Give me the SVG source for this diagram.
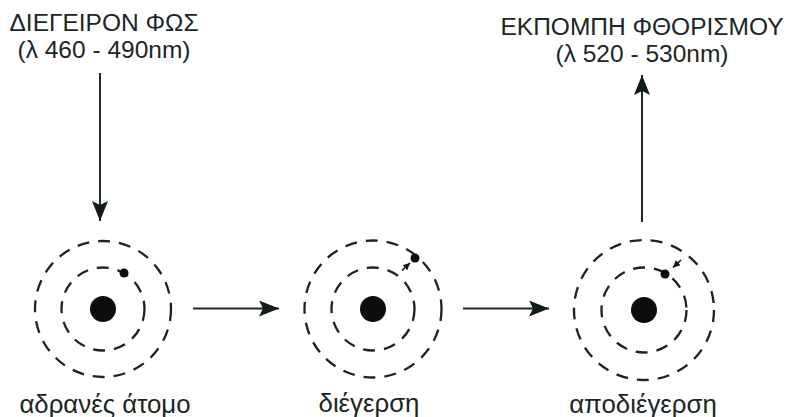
<svg xmlns="http://www.w3.org/2000/svg" width="790" height="417" viewBox="0 0 790 417">
  <defs>
    <style>
      .lbl { font-family: "Liberation Sans", Arial, sans-serif; font-size: 24.5px; fill: #1b2626; text-anchor: middle; }
      .cap { font-size: 25.8px; }
      .orbit { fill: none; stroke: #1b2222; stroke-width: 2.3; stroke-dasharray: 12 9; }
      .nucleus { fill: #0d0d0d; }
      .electron { fill: #0d0d0d; }
      .conn { fill: none; stroke: #1d2a2a; stroke-width: 2; }
      .small { fill: none; stroke: #111; stroke-width: 1.6; }
    </style>
    <marker id="head" viewBox="0 0 20 16" refX="20" refY="8" markerWidth="20" markerHeight="16" markerUnits="userSpaceOnUse" orient="auto">
      <path d="M0,0 L20,8 L0,16 L4,8 Z" fill="#121a1a"/>
    </marker>
    <marker id="tiny" viewBox="0 0 8 8" refX="8" refY="4" markerWidth="7" markerHeight="7" markerUnits="userSpaceOnUse" orient="auto">
      <path d="M0,0 L8,4 L0,8 Z" fill="#111"/>
    </marker>
  </defs>

  <rect width="790" height="417" fill="#ffffff"/>

  <!-- incoming light label -->
  <g id="excitation-light">
    <text class="lbl" x="104" y="31">ΔΙΕΓΕΙΡΟΝ ΦΩΣ</text>
    <text class="lbl" x="104" y="58">(λ 460 - 490nm)</text>
  </g>

  <!-- emitted light label -->
  <g id="fluorescence-emission">
    <text class="lbl" x="642" y="35">ΕΚΠΟΜΠΗ ΦΘΟΡΙΣΜΟΥ</text>
    <text class="lbl" x="642" y="62">(λ 520 - 530nm)</text>
  </g>

  <!-- ground-state atom -->
  <g id="atom-ground">
    <circle class="orbit" cx="103" cy="309" r="68"/>
    <circle class="orbit" cx="103" cy="309" r="41.5"/>
    <circle class="nucleus" cx="103" cy="309" r="13"/>
    <circle class="electron" cx="124" cy="273" r="4.5"/>
    <text class="lbl cap" x="105" y="413">αδρανές άτομο</text>
  </g>

  <!-- excited atom -->
  <g id="atom-excited">
    <circle class="orbit" cx="373" cy="309" r="68.5"/>
    <circle class="orbit" cx="373" cy="309" r="41.5"/>
    <circle class="nucleus" cx="373" cy="309" r="13"/>
    <circle class="electron" cx="415" cy="258" r="4.5"/>
    <line class="small" x1="402" y1="270.5" x2="410" y2="263" marker-end="url(#tiny)"/>
    <text class="lbl cap" x="369" y="412">διέγερση</text>
  </g>

  <!-- relaxing atom -->
  <g id="atom-relaxation">
    <circle class="orbit" cx="644" cy="310" r="70"/>
    <circle class="orbit" cx="644" cy="310" r="42.5"/>
    <circle class="nucleus" cx="644" cy="310" r="13"/>
    <circle class="electron" cx="665" cy="274" r="4.5"/>
    <line class="small" x1="681" y1="260" x2="673" y2="267.5" marker-end="url(#tiny)"/>
    <text class="lbl cap" x="643" y="413">αποδιέγερση</text>
  </g>

  <!-- connectors -->
  <g id="connectors">
    <line class="conn" x1="100" y1="73" x2="100" y2="221" marker-end="url(#head)"/>
    <line class="conn" x1="642" y1="222" x2="642" y2="75" marker-end="url(#head)"/>
    <line class="conn" x1="193" y1="308.5" x2="279" y2="308.5" marker-end="url(#head)"/>
    <line class="conn" x1="463" y1="308.5" x2="549" y2="308.5" marker-end="url(#head)"/>
  </g>
</svg>
